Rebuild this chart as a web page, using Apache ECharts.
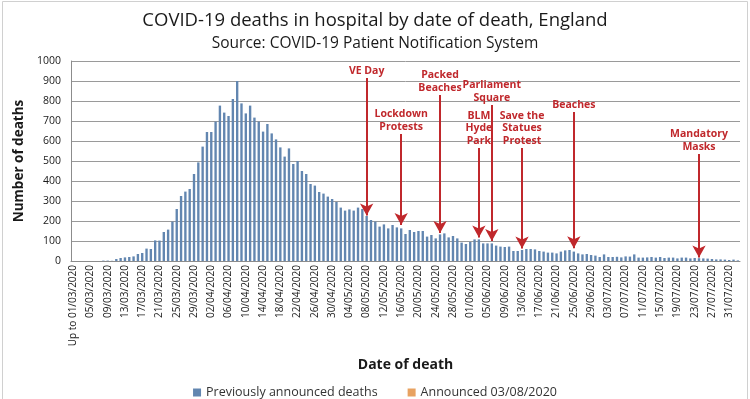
<!DOCTYPE html>
<html>
<head>
<meta charset="utf-8">
<script src="https://cdn.jsdelivr.net/npm/echarts@6/dist/echarts.min.js"></script>
<style>
  html, body { margin: 0; padding: 0; background: #fff; }
  #chart { width: 750px; height: 399px; }
</style>
</head>
<body>
<div id="chart"></div>
<script>
// first bucket is everything up to 01/03, then one bar per day to 02/08
const firstLabel = 'Up to 01/03/2020'
const dayCount = 154

// deaths per day
const previouslyAnnounced = [
  0, 0, 0, 0, 0, 0, 0, 2, 2, 1,
  10, 15, 18, 20, 23, 35, 40, 62, 60, 103,
  102, 145, 157, 197, 260, 325, 347, 360, 435, 493,
  572, 645, 645, 697, 777, 742, 725, 810, 900, 788,
  738, 777, 717, 697, 647, 685, 638, 608, 568, 522,
  563, 485, 500, 450, 435, 385, 377, 345, 337, 322,
  310, 295, 267, 252, 258, 252, 267, 260, 225, 205,
  197, 172, 183, 163, 180, 168, 163, 135, 155, 145,
  150, 150, 122, 130, 113, 133, 138, 118, 125, 113,
  92, 85, 95, 108, 108, 88, 88, 88, 77, 72,
  70, 72, 50, 50, 55, 60, 60, 58, 50, 47,
  42, 42, 38, 47, 53, 55, 47, 38, 33, 35,
  30, 27, 20, 33, 20, 20, 21, 18, 23, 22,
  33, 17, 17, 18, 20, 17, 20, 15, 17, 17,
  13, 17, 17, 13, 15, 14, 13, 12, 10, 8,
  8, 7, 5, 7, 3
]
// nothing from the new announcement is visible at this scale
const announcedNew = []

// events: label, date, where the arrow starts and ends (in deaths)
const events = [
  { label: 'VE Day', date: '08/05/2020', from: 915, to: 228 },
  { label: 'Lockdown\nProtests', date: '16/05/2020', from: 635, to: 180 },
  { label: 'Packed\nBeaches', date: '25/05/2020', from: 830, to: 140 },
  { label: 'BLM\nHyde\nPark', date: '03/06/2020', from: 565, to: 118 },
  { label: 'Parliament\nSquare', date: '06/06/2020', from: 780, to: 100 },
  { label: 'Save the\nStatues\nProtest', date: '13/06/2020', from: 565, to: 62 },
  { label: 'Beaches', date: '25/06/2020', from: 745, to: 64 },
  { label: 'Mandatory\nMasks', date: '24/07/2020', from: 535, to: 18 }
]

const pad = n => String(n).padStart(2, '0')
const categories = [firstLabel]
for (let i = 1; i <= dayCount; i++) {
  const d = new Date(Date.UTC(2020, 2, 1 + i))
  categories.push(pad(d.getUTCDate()) + '/' + pad(d.getUTCMonth() + 1) + '/' + d.getUTCFullYear())
}

const FONT = '"Open Sans", "Noto Sans", sans-serif'
const RED = '#c0282c'

const chart = echarts.init(document.getElementById('chart'))

chart.setOption({
  backgroundColor: '#fff',
  animation: false,
  textStyle: { fontFamily: FONT },
  title: {
    text: 'COVID-19 deaths in hospital by date of death, England',
    subtext: 'Source: COVID-19 Patient Notification System',
    left: 'center',
    top: 6,
    itemGap: 6,
    textStyle: { fontFamily: FONT, fontSize: 18.5, fontWeight: 'normal', color: '#1a1a1a' },
    subtextStyle: { fontFamily: FONT, fontSize: 15.5, color: '#1a1a1a' }
  },
  graphic: [{
    type: 'rect',
    shape: { x: 2.5, y: 1.5, width: 745, height: 400 },
    style: { fill: 'none', stroke: '#d0d0d0', lineWidth: 1 },
    silent: true
  }],
  legend: {
    top: 381,
    left: 'center',
    itemWidth: 8,
    itemHeight: 8,
    itemGap: 30,
    icon: 'rect',
    textStyle: { fontFamily: FONT, fontSize: 12.5, color: '#333' },
    data: ['Previously announced deaths', 'Announced 03/08/2020']
  },
  grid: { left: 71, right: 10, top: 61, bottom: 138 },
  xAxis: {
    type: 'category',
    data: categories,
    name: 'Date of death',
    nameLocation: 'middle',
    nameGap: 97,
    nameTextStyle: { fontFamily: FONT, fontSize: 14, fontWeight: 'bold', color: '#1a1a1a' },
    axisLine: { lineStyle: { color: '#8c8c8c' } },
    axisTick: { show: false },
    axisLabel: {
      interval: 3,
      rotate: 90,
      fontSize: 10,
      color: '#1a1a1a',
      margin: 4
    }
  },
  yAxis: {
    type: 'value',
    min: 0,
    max: 1000,
    interval: 100,
    name: 'Number of deaths',
    nameLocation: 'middle',
    nameGap: 40,
    nameTextStyle: { fontFamily: FONT, fontSize: 13.5, fontWeight: 'bold', color: '#1a1a1a' },
    axisLine: { show: true, lineStyle: { color: '#8c8c8c' } },
    axisLabel: { fontSize: 10.5, color: '#1a1a1a', margin: 10, formatter: v => String(v) },
    splitLine: { lineStyle: { color: '#9a9a9a' } }
  },
  series: [
    {
      name: 'Previously announced deaths',
      type: 'bar',
      stack: 'deaths',
      data: previouslyAnnounced,
      barCategoryGap: '45%',
      itemStyle: { color: '#6286b0' },
      markLine: {
        silent: true,
        symbol: ['none', 'arrow'],
        symbolSize: [10, 12],
        lineStyle: { color: RED, width: 2, type: 'solid' },
        label: {
          show: true,
          position: 'start',
          distance: 1,
          formatter: p => p.name,
          color: RED,
          fontFamily: FONT,
          fontSize: 10.5,
          fontWeight: 'bold',
          lineHeight: 12.5,
          align: 'center'
        },
        data: events.map(e => [
          { name: e.label, coord: [e.date, e.from] },
          { coord: [e.date, e.to] }
        ])
      }
    },
    {
      name: 'Announced 03/08/2020',
      type: 'bar',
      stack: 'deaths',
      data: announcedNew,
      itemStyle: { color: '#e8a261' }
    }
  ]
})

window.addEventListener('resize', () => chart.resize())
</script>
</body>
</html>
